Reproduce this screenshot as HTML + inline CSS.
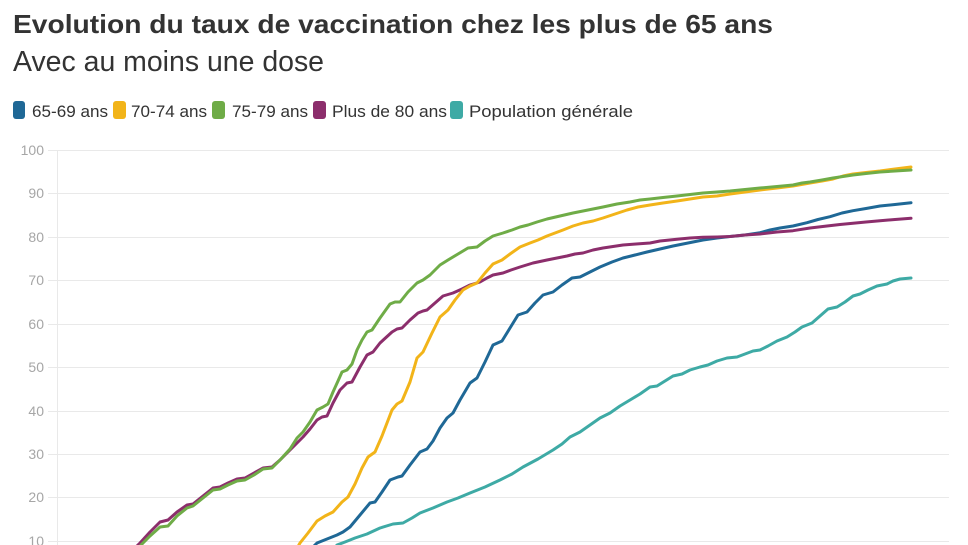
<!DOCTYPE html>
<html>
<head>
<meta charset="utf-8">
<style>
  html, body { margin: 0; padding: 0; background: #fff; }
  body { width: 968px; height: 545px; overflow: hidden; }
  svg { display: block; font-family: "Liberation Sans", sans-serif; }
  .line { fill: none; stroke-width: 3; stroke-linejoin: round; stroke-linecap: round; }
</style>
</head>
<body>
<svg width="968" height="545" viewBox="0 0 968 545" xmlns="http://www.w3.org/2000/svg">
  <rect x="0" y="0" width="968" height="545" fill="#ffffff"/>

  <!-- Title -->
  <text x="13" y="33" font-size="26" font-weight="bold" fill="#333333" textLength="760" lengthAdjust="spacingAndGlyphs">Evolution du taux de vaccination chez les plus de 65 ans</text>
  <text x="13" y="71" font-size="29" fill="#333333" textLength="311" lengthAdjust="spacingAndGlyphs">Avec au moins une dose</text>

  <!-- Legend -->
  <rect x="13" y="101" width="12" height="18" rx="3" fill="#1f6896"/>
  <text x="32" y="117" font-size="17" fill="#333333" textLength="76" lengthAdjust="spacingAndGlyphs">65-69 ans</text>
  <rect x="113" y="101" width="13" height="18" rx="3" fill="#f2b419"/>
  <text x="131" y="117" font-size="17" fill="#333333" textLength="76" lengthAdjust="spacingAndGlyphs">70-74 ans</text>
  <rect x="212" y="101" width="13" height="18" rx="3" fill="#6fac47"/>
  <text x="232" y="117" font-size="17" fill="#333333" textLength="76" lengthAdjust="spacingAndGlyphs">75-79 ans</text>
  <rect x="313" y="101" width="13" height="18" rx="3" fill="#8c2e6c"/>
  <text x="332" y="117" font-size="17" fill="#333333" textLength="115" lengthAdjust="spacingAndGlyphs">Plus de 80 ans</text>
  <rect x="450" y="101" width="13" height="18" rx="3" fill="#3eaaa5"/>
  <text x="469" y="117" font-size="17" fill="#333333" textLength="164" lengthAdjust="spacingAndGlyphs">Population générale</text>

  <!-- Grid -->
  <g stroke="#e9e9e9" stroke-width="1">
    <line x1="48" y1="150.5" x2="949" y2="150.5"/>
    <line x1="48" y1="193.5" x2="949" y2="193.5"/>
    <line x1="48" y1="237.5" x2="949" y2="237.5"/>
    <line x1="48" y1="280.5" x2="949" y2="280.5"/>
    <line x1="48" y1="324.5" x2="949" y2="324.5"/>
    <line x1="48" y1="367.5" x2="949" y2="367.5"/>
    <line x1="48" y1="411.5" x2="949" y2="411.5"/>
    <line x1="48" y1="454.5" x2="949" y2="454.5"/>
    <line x1="48" y1="497.5" x2="949" y2="497.5"/>
    <line x1="48" y1="541.5" x2="949" y2="541.5"/>
    <line x1="57.5" y1="151" x2="57.5" y2="545"/>
  </g>

  <!-- Y labels -->
  <g font-size="14" fill="#a6a6a6" text-anchor="end">
    <text x="44" y="155">100</text>
    <text x="44" y="198">90</text>
    <text x="44" y="242">80</text>
    <text x="44" y="285">70</text>
    <text x="44" y="329">60</text>
    <text x="44" y="372">50</text>
    <text x="44" y="416">40</text>
    <text x="44" y="459">30</text>
    <text x="44" y="502">20</text>
    <text x="44" y="546">10</text>
  </g>

  <!-- Teal: Population générale -->
  <polyline class="line" stroke="#3eaaa5" points="333,550 337,545 345,542 355,538 367,534 380,528 393,524 403,523 412,518 420,513 433,508 447,502 458,498 470,493 485,487 500,480 512,474 523,467 538,459 553,450 562,444 570,437 580,432 590,425 600,418 610,413 620,406 630,400 640,394 650,387 657,386 665,381 673,376 682,374 690,370 700,367 708,365 717,361 727,358 737,357 745,354 753,351 760,350 768,346 777,341 787,337 795,332 802,327 812,323 820,316 828,309 837,307 845,302 853,296 860,294 868,290 877,286 887,284 893,281 900,279 911,278"/>

  <!-- Blue: 65-69 -->
  <polyline class="line" stroke="#1f6896" points="312,548 317,543 327,539 337,535 343,532 350,527 360,515 370,503 375,502 382,492 390,480 398,477 402,476 410,465 420,452 427,449 433,441 440,428 447,418 453,413 460,400 470,383 477,378 485,362 493,345 502,341 510,328 518,315 527,312 535,303 543,295 553,292 562,285 572,278 580,277 590,272 600,267 612,262 623,258 635,255 647,252 660,249 673,246 688,243 703,240 717,238 730,236.5 745,235 760,232.7 770,230 780,228 793,226 807,222.7 818,219.5 830,216.7 842,213 853,210.7 866,208.5 880,206 895,204.5 911,202.7"/>

  <!-- Purple: Plus de 80 -->
  <polyline class="line" stroke="#8c2e6c" points="133,550 140,543 150,532 160,522 168,520 177,512 187,505 193,504 203,496 213,488 220,487 228,483 237,479 245,478 254,473 263,468 272,467 280,460 290,450 297,443 303,437 310,429 317,420 322,417 327,416 333,403 340,390 347,383 352,382 360,367 367,355 373,352 380,343 392,332 397,329 402,328 410,320 418,313 423,311 427,310 435,303 443,296 453,293 462,289 470,285 480,282 487,278 493,275 503,273 511,270 520,267 533,263 547,260 557,258 567,256 575,254 583,253 593,250 603,248 613,246.5 623,245 636,244 650,243 660,241 677,239.3 690,238 703,237.3 717,237 730,236.5 745,235 760,234 777,232 793,230.7 810,228 827,226 840,224.5 853,223.3 866,222 880,220.7 895,219.5 911,218.3"/>

  <!-- Yellow: 70-74 -->
  <polyline class="line" stroke="#f2b419" points="296,550 300,543 308,533 317,521 325,516 333,512 342,502 348,497 355,484 362,468 368,457 375,452 382,436 392,410 397,404 402,401 410,382 417,358 423,352 432,333 440,317 448,310 455,300 463,290 470,286 477,283 485,273 493,264 502,260 510,254 520,247 530,243 538,240 547,236 555,233 563,230 573,226 583,223 593,221 603,218 615,214 627,210 638,207 650,205 663,203 677,201 690,199 703,197 717,196 730,194 745,192 760,190 777,188 793,186 810,183 822,181 833,179 843,176 853,174 866,172.5 880,171 895,169 911,167"/>

  <!-- Green: 75-79 -->
  <polyline class="line" stroke="#6fac47" points="136,550 140,546 150,536 160,527 168,526 177,516 187,508 193,506 203,498 213,490 220,489 228,485 237,481 245,480 254,475 263,469 272,468 280,460 290,449 297,438 303,432 310,422 317,410 323,407 328,404 333,392 338,381 342,372 347,370 352,364 357,350 362,340 367,332 372,330 380,318 390,304 395,302 400,302 408,292 417,283 423,280 430,275 440,265 448,260 458,254 468,248 477,247 485,241 493,236 503,233 512,230 520,227 528,225 537,222 547,219 560,216 573,213 583,211 593,209 603,207 617,204 630,202 640,200 650,199 663,197.5 677,196 690,194.5 703,193 717,192 730,191 745,189.5 760,188 777,186.5 793,185 802,183 810,182 822,180 833,178 843,176.5 853,175 866,173.5 880,172 895,171 911,170"/>
</svg>
</body>
</html>
